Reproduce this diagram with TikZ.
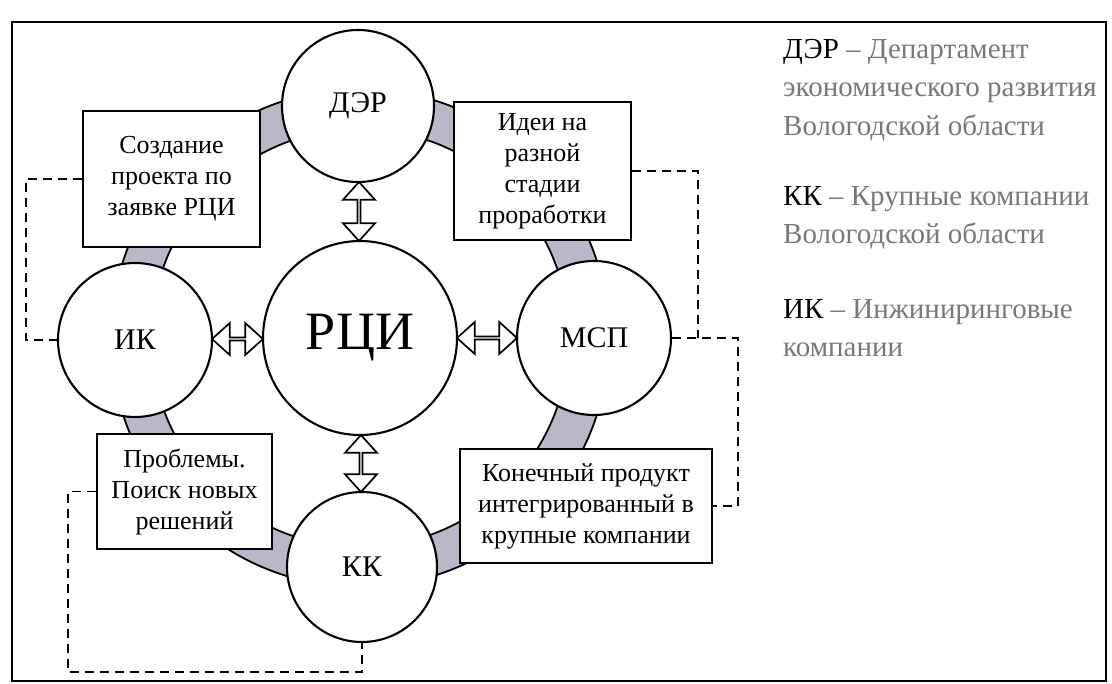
\documentclass[tikz,border=0pt]{standalone}
\usepackage{fontspec}
\setmainfont{Liberation Serif}
\usetikzlibrary{shapes.arrows,calc}
\definecolor{ringgray}{RGB}{184,184,200}
\definecolor{leggray}{RGB}{120,120,120}
\begin{document}
\begin{tikzpicture}[x=1pt,y=-1pt,
  circ/.style={circle,draw,fill=white,line width=2.1pt,inner sep=0pt,font=\fontsize{30}{34}\selectfont},
  boxn/.style={rectangle,draw,fill=white,line width=2.1pt,inner sep=0pt,align=center,font=\fontsize{26}{31}\selectfont},
  dbl/.style={double arrow,draw,fill=white,line width=1.7pt,inner sep=0pt,minimum width=32pt,double arrow head extend=8pt,double arrow tip angle=84},
  dsh/.style={line width=1.8pt,dash pattern=on 9pt off 6pt},
  leg/.style={inner sep=0pt,anchor=base west,font=\fontsize{29}{38}\selectfont}]
\useasboundingbox (0,0) rectangle (1112,684);
% frame
\draw[line width=2.8pt] (12,22) rectangle (1106,681);
% ring centre
\coordinate (rc) at (360,338);
% ring
\draw[line width=1.8pt,fill=ringgray,even odd rule] (rc) circle[radius=249] (rc) circle[radius=209];
% boxes
\node[boxn,minimum width=177pt,minimum height=136pt] (sozd) at (171.5,179) {Создание\\проекта по\\заявке РЦИ};
\node[boxn,minimum width=177pt,minimum height=138pt] (idei) at (542.5,171) {Идеи на\\разной\\стадии\\проработки};
\node[boxn,minimum width=175pt,minimum height=115pt] (probl) at (184.5,491.5) {Проблемы.\\Поиск новых\\решений};
\node[boxn,minimum width=252pt,minimum height=114pt] (kon) at (586,506) {Конечный продукт\\интегрированный в\\крупные компании};
% circles
\node[circ,minimum size=152pt] (der) at (358,106) {ДЭР};
\node[circ,minimum size=194pt,font=\fontsize{54}{60}\selectfont] (rci) at (rc) {РЦИ};
\node[circ,minimum size=154pt] (ik) at (135,340) {ИК};
\node[circ,minimum size=154pt] (msp) at (594,338) {МСП};
\node[circ,minimum size=150pt] (kk) at (362,567) {КК};
% double arrows
\node[dbl,minimum height=59pt,rotate=90] (a1) at ($(der.south)!0.5!(rci.north)$) {};
\node[dbl,minimum height=51pt] (a2) at ($(ik.east)!0.5!(rci.west)$) {};
\node[dbl,minimum height=60pt] (a3) at ($(rci.east)!0.5!(msp.west)$) {};
\node[dbl,minimum height=57pt,rotate=90] (a4) at ($(rci.south)!0.5!(kk.north)$) {};
% dashed connectors
\coordinate (j1) at (698,338);
\coordinate (b1) at (68,672);
\draw[dsh] (sozd.west) -- ++(-56,0) |- (ik.west);
\draw[dsh] (idei.east) -| (j1);
\draw[dsh] (msp.east) -- ++(66,0) |- (kon.east);
\draw[dsh] (probl.west) -| (b1) -| (kk.south);
% legend
\node[leg] (l1) at (783,59) {ДЭР\ \textcolor{leggray}{– Департамент}};
\node[leg,text=leggray] (l2) at (783,97) {экономического развития};
\node[leg,text=leggray] (l3) at (783,136) {Вологодской области};
\node[leg] (l4) at (783,206) {КК\ \textcolor{leggray}{– Крупные компании}};
\node[leg,text=leggray] (l5) at (783,244) {Вологодской области};
\node[leg] (l6) at (783,319) {ИК\ \textcolor{leggray}{– Инжиниринговые}};
\node[leg,text=leggray] (l7) at (783,357) {компании};
\end{tikzpicture}
\end{document}
